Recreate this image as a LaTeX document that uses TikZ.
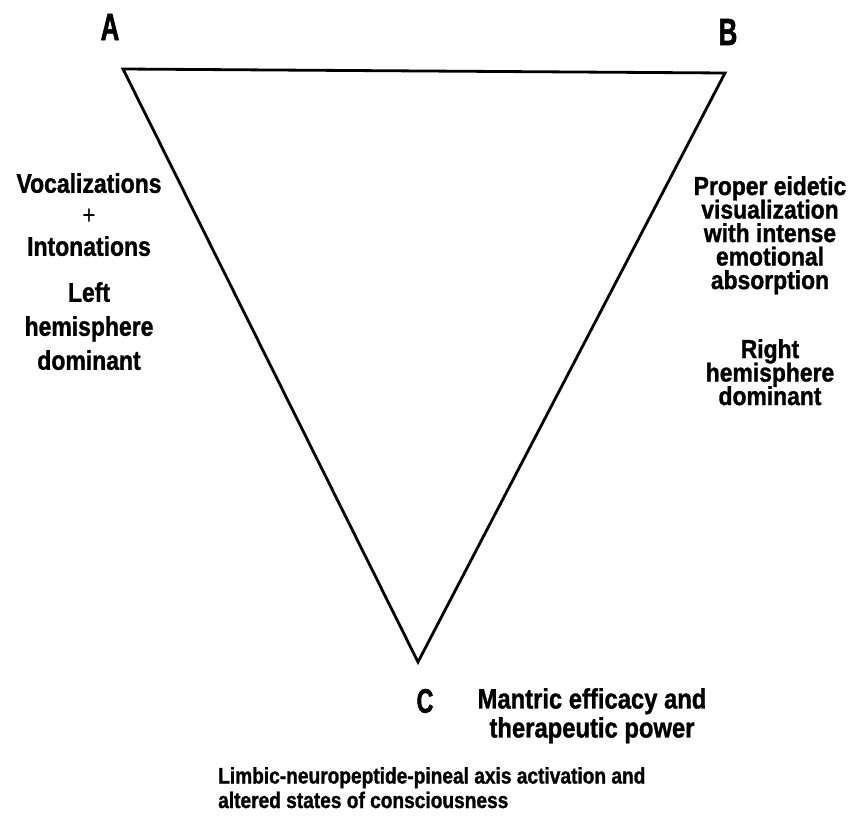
\documentclass[tikz,border=0pt]{standalone}
\usepackage{fontspec}
\setmainfont{Liberation Sans}[FakeStretch=0.85, BoldFeatures={FakeBold=1.2}]
\newfontfamily\cornerfont{Liberation Sans}[FakeStretch=0.68, BoldFeatures={FakeBold=1.5}]
\newfontfamily\narrowfont{Liberation Sans}[FakeStretch=0.88, BoldFeatures={FakeBold=1.2}]
\usetikzlibrary{positioning}
\newcommand{\tightlines}{\lineskiplimit=-60pt\relax}

\begin{document}
\begin{tikzpicture}[
    x=1pt, y=-1pt,
    edge/.style={line width=2.8pt, line join=miter},
    vertexlabel/.style={font={\cornerfont\fontsize{38}{38}\selectfont\bfseries}, inner sep=0pt},
    sidetext/.style={font={\fontsize{27}{#1}\selectfont\bfseries\tightlines},
                     align=center, inner sep=0pt, anchor=north},
    righttext/.style={font={\narrowfont\fontsize{26}{#1}\selectfont\bfseries\tightlines},
                     align=center, inner sep=0pt, anchor=north},
    foottext/.style={font={\fontsize{22.5}{24.5}\selectfont\bfseries\tightlines},
                     align=left, inner sep=0pt, anchor=north west}
]
\useasboundingbox (0,0) rectangle (855,819);

% the three corners
\coordinate (A) at (123,69);
\coordinate (B) at (725,73);
\coordinate (C) at (418,662);
\draw[edge] (A) -- (B) -- (C) -- cycle;

\node[vertexlabel] (labA) at (110,27) {A};
\node[vertexlabel] (labB) at (728,32) {B};
\node[vertexlabel, font={\cornerfont\fontsize{34}{34}\selectfont\bfseries}] (labC) at (425,701) {C};

% left side
\node[sidetext=31.5] (vocal) at (89,173) {Vocalizations\\{\mdseries +}\\Intonations};
\node[sidetext=34] (lefthemi) at (89,282) {Left\\hemisphere\\dominant};

% right side
\node[righttext=23.5] (eidetic) at (770,176) {Proper eidetic\\visualization\\with intense\\emotional\\absorption};
\node[righttext=23.5] (righthemi) at (770,339) {Right\\hemisphere\\dominant};

% bottom
\node[sidetext=29, font={\fontsize{28}{29}\selectfont\bfseries\tightlines}] (mantric) at (592,688)
    {Mantric efficacy and\\therapeutic power};
\node[foottext] (limbic) at (218,767)
    {Limbic-neuropeptide-pineal axis activation and\\altered states of consciousness};
\end{tikzpicture}
\end{document}
